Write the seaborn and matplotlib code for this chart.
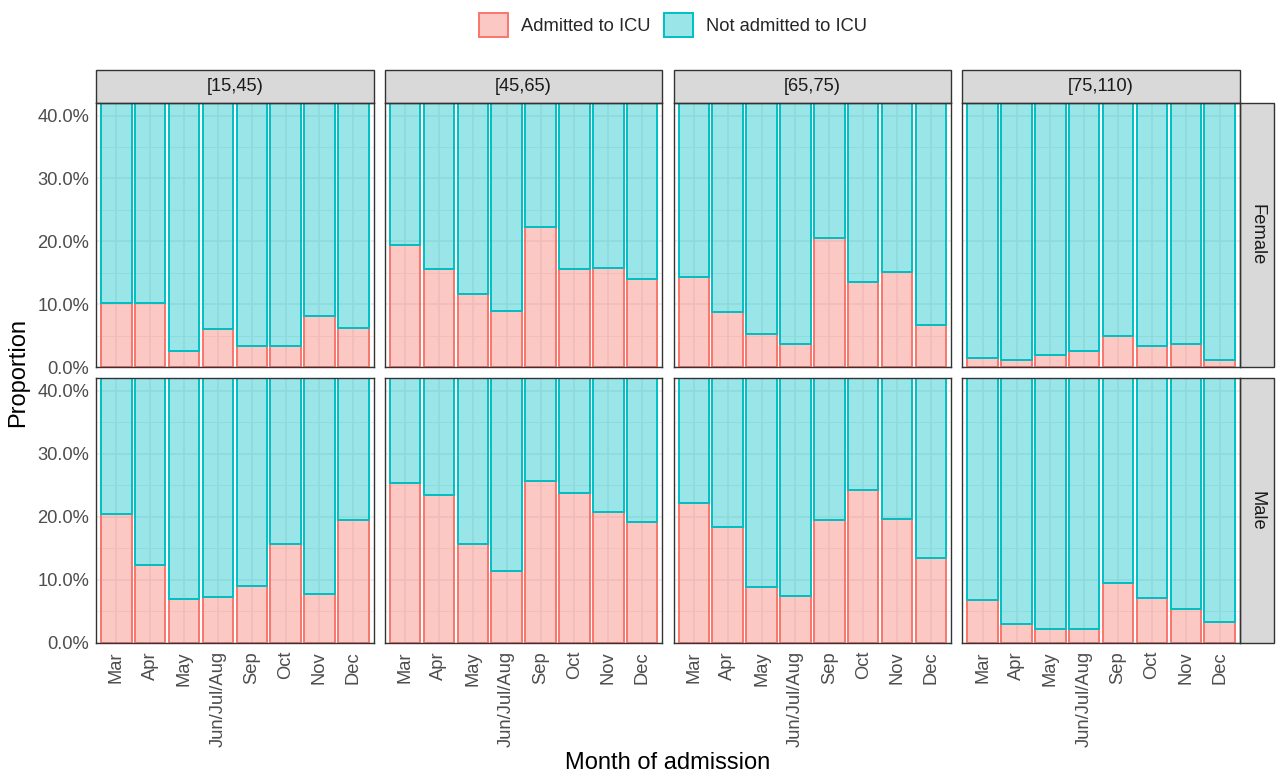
import numpy as np
import pandas as pd
import matplotlib
matplotlib.use("Agg")
import matplotlib.pyplot as plt
from matplotlib.patches import Patch, Rectangle
from matplotlib.ticker import PercentFormatter, MultipleLocator
import seaborn as sns

# ---------------- data (proportion admitted to ICU) ----------------
months = ["Mar", "Apr", "May", "Jun/Jul/Aug", "Sep", "Oct", "Nov", "Dec"]
age_groups = ["[15,45)", "[45,65)", "[65,75)", "[75,110)"]
sexes = ["Female", "Male"]

female_15_45 = [0.102, 0.102, 0.025, 0.060, 0.034, 0.033, 0.082, 0.062]
female_45_65 = [0.195, 0.156, 0.116, 0.090, 0.223, 0.156, 0.157, 0.141]
female_65_75 = [0.144, 0.087, 0.053, 0.037, 0.206, 0.136, 0.151, 0.067]
female_75_110 = [0.014, 0.012, 0.019, 0.025, 0.050, 0.033, 0.037, 0.012]
male_15_45 = [0.205, 0.123, 0.069, 0.073, 0.090, 0.157, 0.077, 0.195]
male_45_65 = [0.254, 0.234, 0.157, 0.113, 0.256, 0.238, 0.208, 0.191]
male_65_75 = [0.221, 0.183, 0.088, 0.074, 0.195, 0.243, 0.197, 0.134]
male_75_110 = [0.068, 0.029, 0.022, 0.021, 0.095, 0.070, 0.053, 0.033]

admitted = {
    ("Female", "[15,45)"): female_15_45,
    ("Female", "[45,65)"): female_45_65,
    ("Female", "[65,75)"): female_65_75,
    ("Female", "[75,110)"): female_75_110,
    ("Male", "[15,45)"): male_15_45,
    ("Male", "[45,65)"): male_45_65,
    ("Male", "[65,75)"): male_65_75,
    ("Male", "[75,110)"): male_75_110,
}

rows = []
for (sex, age), vals in admitted.items():
    for m, v in zip(months, vals):
        rows.append({"sex": sex, "age": age, "month": m, "icu": v, "no_icu": 1 - v})
df = pd.DataFrame(rows)

# ---------------- style ----------------
sns.set_style("white")
plt.rcParams["font.family"] = ["Liberation Sans", "DejaVu Sans"]

red = "#F8766D"
cyan = "#00BFC4"
red_fill = matplotlib.colors.to_rgba(red, 0.4)
cyan_fill = matplotlib.colors.to_rgba(cyan, 0.4)
dark = "#333333"
txt = "#4D4D4D"
fs = 13.2

fig, axes = plt.subplots(2, 4, figsize=(12.77, 7.78), dpi=100)
fig.subplots_adjust(left=96 / 1277, right=1240 / 1277, top=1 - 103 / 778,
                    bottom=1 - 642.5 / 778, wspace=0.04, hspace=0.042)

for i, sex in enumerate(sexes):
    for j, age in enumerate(age_groups):
        ax = axes[i, j]
        sub = df[(df.sex == sex) & (df.age == age)]
        ax.set_axisbelow(True)
        sns.barplot(data=sub, x="month", y="icu", order=months, ax=ax,
                    width=0.9, saturation=1, facecolor=red_fill,
                    edgecolor=red, linewidth=1.4, errorbar=None)
        n_red = len(ax.patches)
        sns.barplot(data=sub, x="month", y="no_icu", order=months, ax=ax,
                    width=0.9, saturation=1, facecolor=cyan_fill,
                    edgecolor=cyan, linewidth=1.4, errorbar=None)
        # stack the "not admitted" bars on top of the admitted ones
        for low, top in zip(ax.patches[:n_red], ax.patches[n_red:]):
            top.set_y(low.get_height())
        ax.set_xlim(-0.6, 7.6)
        ax.set_ylim(0, 0.42)
        ax.yaxis.set_major_locator(MultipleLocator(0.1))
        ax.yaxis.set_minor_locator(MultipleLocator(0.05))
        ax.yaxis.set_major_formatter(PercentFormatter(1.0, decimals=1))
        ax.grid(True, which="major", color="#EBEBEB", lw=1.1)
        ax.grid(True, which="minor", axis="y", color="#EBEBEB", lw=0.6)
        ax.set_xlabel("")
        ax.set_ylabel("")
        for s in ax.spines.values():
            s.set_color(dark)
            s.set_linewidth(1.0)
        ax.tick_params(which="major", length=3.2, width=0.9, color=dark,
                       labelcolor=txt, labelsize=fs)
        ax.tick_params(axis="y", which="minor", length=0)
        ax.tick_params(axis="y", pad=1.5)
        ax.tick_params(axis="x", pad=3)
        if i == 0:
            ax.tick_params(axis="x", bottom=False, labelbottom=False)
            # top strip
            ax.add_patch(Rectangle((0, 1), 1, 33 / 264, transform=ax.transAxes,
                                   facecolor="#D9D9D9", edgecolor=dark, lw=1.0,
                                   clip_on=False))
            ax.text(0.5, 1 + 16.5 / 264, age, transform=ax.transAxes,
                    ha="center", va="center", fontsize=fs, color="#1A1A1A")
        else:
            for lab in ax.get_xticklabels():
                lab.set_rotation(90)
                lab.set_ha("center")
                lab.set_va("top")
        if j > 0:
            ax.tick_params(axis="y", left=False, labelleft=False)
        if j == 3:
            ax.add_patch(Rectangle((1, 0), 34 / 277, 1, transform=ax.transAxes,
                                   facecolor="#D9D9D9", edgecolor=dark, lw=1.0,
                                   clip_on=False))
            ax.text(1 + 17 / 277, 0.5, sex, transform=ax.transAxes,
                    ha="center", va="center", rotation=-90, fontsize=fs,
                    color="#1A1A1A")

fig.text(668 / 1277, 1 - 763 / 778, "Month of admission", ha="center",
         va="center", fontsize=17, color="black")
fig.text(18 / 1277, 1 - 372 / 778, "Proportion", ha="center", va="center",
         rotation=90, fontsize=17, color="black")

handles = [Patch(facecolor=red_fill, edgecolor=red, lw=1.4),
           Patch(facecolor=cyan_fill, edgecolor=cyan, lw=1.4)]
fig.legend(handles, ["Admitted to ICU", "Not admitted to ICU"], ncol=2,
           loc="center", bbox_to_anchor=(673 / 1277, 1 - 25 / 778),
           frameon=False, fontsize=fs, handlelength=1.6, handleheight=1.6,
           handletextpad=0.7, columnspacing=0.7, borderpad=0)

fig.savefig("out.png", dpi=100)
